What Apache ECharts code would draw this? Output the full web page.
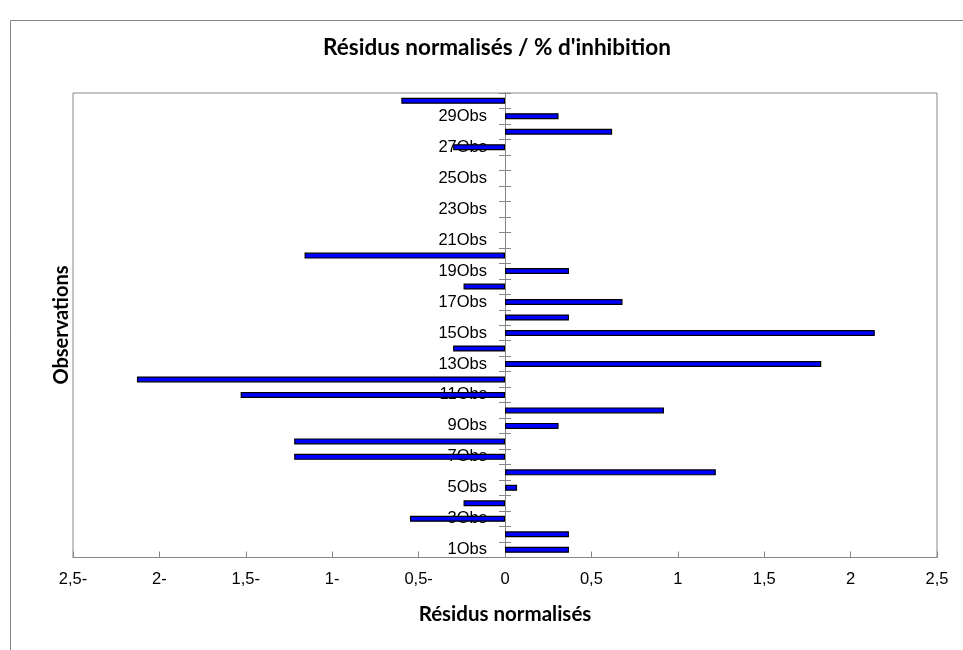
<!DOCTYPE html>
<html>
<head>
<meta charset="utf-8">
<script src="https://cdn.jsdelivr.net/npm/echarts@6/dist/echarts.min.js"></script>
<style>
html,body{margin:0;padding:0;background:#fff;}
#chart{width:963px;height:650px;}
</style>
</head>
<body>
<div id="chart"></div>
<script>
// Category labels (as displayed), bottom to top
const categories = ['1Obs','2Obs','3Obs','4Obs','5Obs','6Obs','7Obs','8Obs','9Obs','10Obs',
  '11Obs','12Obs','13Obs','14Obs','15Obs','16Obs','17Obs','18Obs','19Obs','20Obs',
  '21Obs','22Obs','23Obs','24Obs','25Obs','26Obs','27Obs','28Obs','29Obs','30Obs'];
// Normalised residuals
const residuals = [0.37, 0.37, -0.55, -0.24, 0.07, 1.22, -1.22, -1.22, 0.31, 0.92,
  -1.53, -2.13, 1.83, -0.30, 2.14, 0.37, 0.68, -0.24, 0.37, -1.16,
  0, 0, 0, 0, 0, 0, -0.30, 0.62, 0.31, -0.60];
const xMin = -2.5, xMax = 2.5, xStep = 0.5;
const titleText = "Résidus normalisés / % d'inhibition";
const xName = 'Résidus normalisés';
const yName = 'Observations';

const grey = '#868686';
const gridLeft = 73, gridRight = 26;
const chart = echarts.init(document.getElementById('chart'));
function fmt(v){
  const s = String(Math.abs(v)).replace('.', ',');
  return v < 0 ? s + '-' : s;
}
chart.setOption({
  animation: false,
  backgroundColor: '#fff',
  title: {
    text: titleText,
    left: 492, top: 31, textAlign: 'center',
    textStyle: {fontFamily: 'Lato', fontWeight: 'bold', fontSize: 22.5, color: '#000'}
  },
  grid: {left: gridLeft, right: gridRight, top: 93, bottom: 92.5, show: true, borderColor: grey, borderWidth: 1},
  xAxis: {
    type: 'value', min: xMin, max: xMax, interval: xStep,
    axisLine: {show: true, lineStyle: {color: grey}},
    axisTick: {show: true, inside: true, length: 6, lineStyle: {color: grey}},
    splitLine: {show: false},
    axisLabel: {formatter: fmt, fontFamily: 'Liberation Sans', fontSize: 16.5, color: '#000', margin: 13},
    name: xName, nameLocation: 'middle', nameGap: 46,
    nameTextStyle: {fontFamily: 'Lato', fontWeight: 'bold', fontSize: 20.5, color: '#000'}
  },
  yAxis: [{
    type: 'category', data: categories, position: 'left',
    axisLine: {show: true, onZero: false, lineStyle: {color: grey}},
    axisTick: {show: true, interval: 0, length: 6, lineStyle: {color: grey}},
    axisLabel: {interval: 1, fontFamily: 'Liberation Sans', fontSize: 16.5, color: '#000', margin: 18}
  }, {
    type: 'category', data: categories, position: 'right',
    axisLine: {show: true, onZero: false, lineStyle: {color: grey}},
    axisTick: {show: true, interval: 0, length: 6, lineStyle: {color: grey}},
    axisLabel: {show: false}
  }],
  graphic: [{
    type: 'rect', silent: true,
    shape: {x: 10.5, y: 20.5, width: 965, height: 640},
    style: {fill: 'none', stroke: grey, lineWidth: 1}
  }, {
    type: 'text', silent: true, x: 62, y: 325, rotation: Math.PI / 2,
    style: {text: yName, font: 'bold 20px Lato', fill: '#000', align: 'center', verticalAlign: 'middle'}
  }],
  series: [{
    type: 'bar', yAxisIndex: 0, barWidth: 6,
    data: residuals.map(v => v === 0 ? {value: v, itemStyle: {borderWidth: 0}} : v),
    itemStyle: {color: '#0000FF', borderColor: '#000', borderWidth: 1.2}
  }]
});
// place the category axes on the x = 0 position given by the value axis
const zeroX = chart.convertToPixel({xAxisIndex: 0}, 0);
const rightEdge = chart.getWidth() - gridRight;
chart.setOption({yAxis: [{offset: gridLeft - zeroX}, {offset: zeroX - rightEdge}]});
</script>
</body>
</html>
